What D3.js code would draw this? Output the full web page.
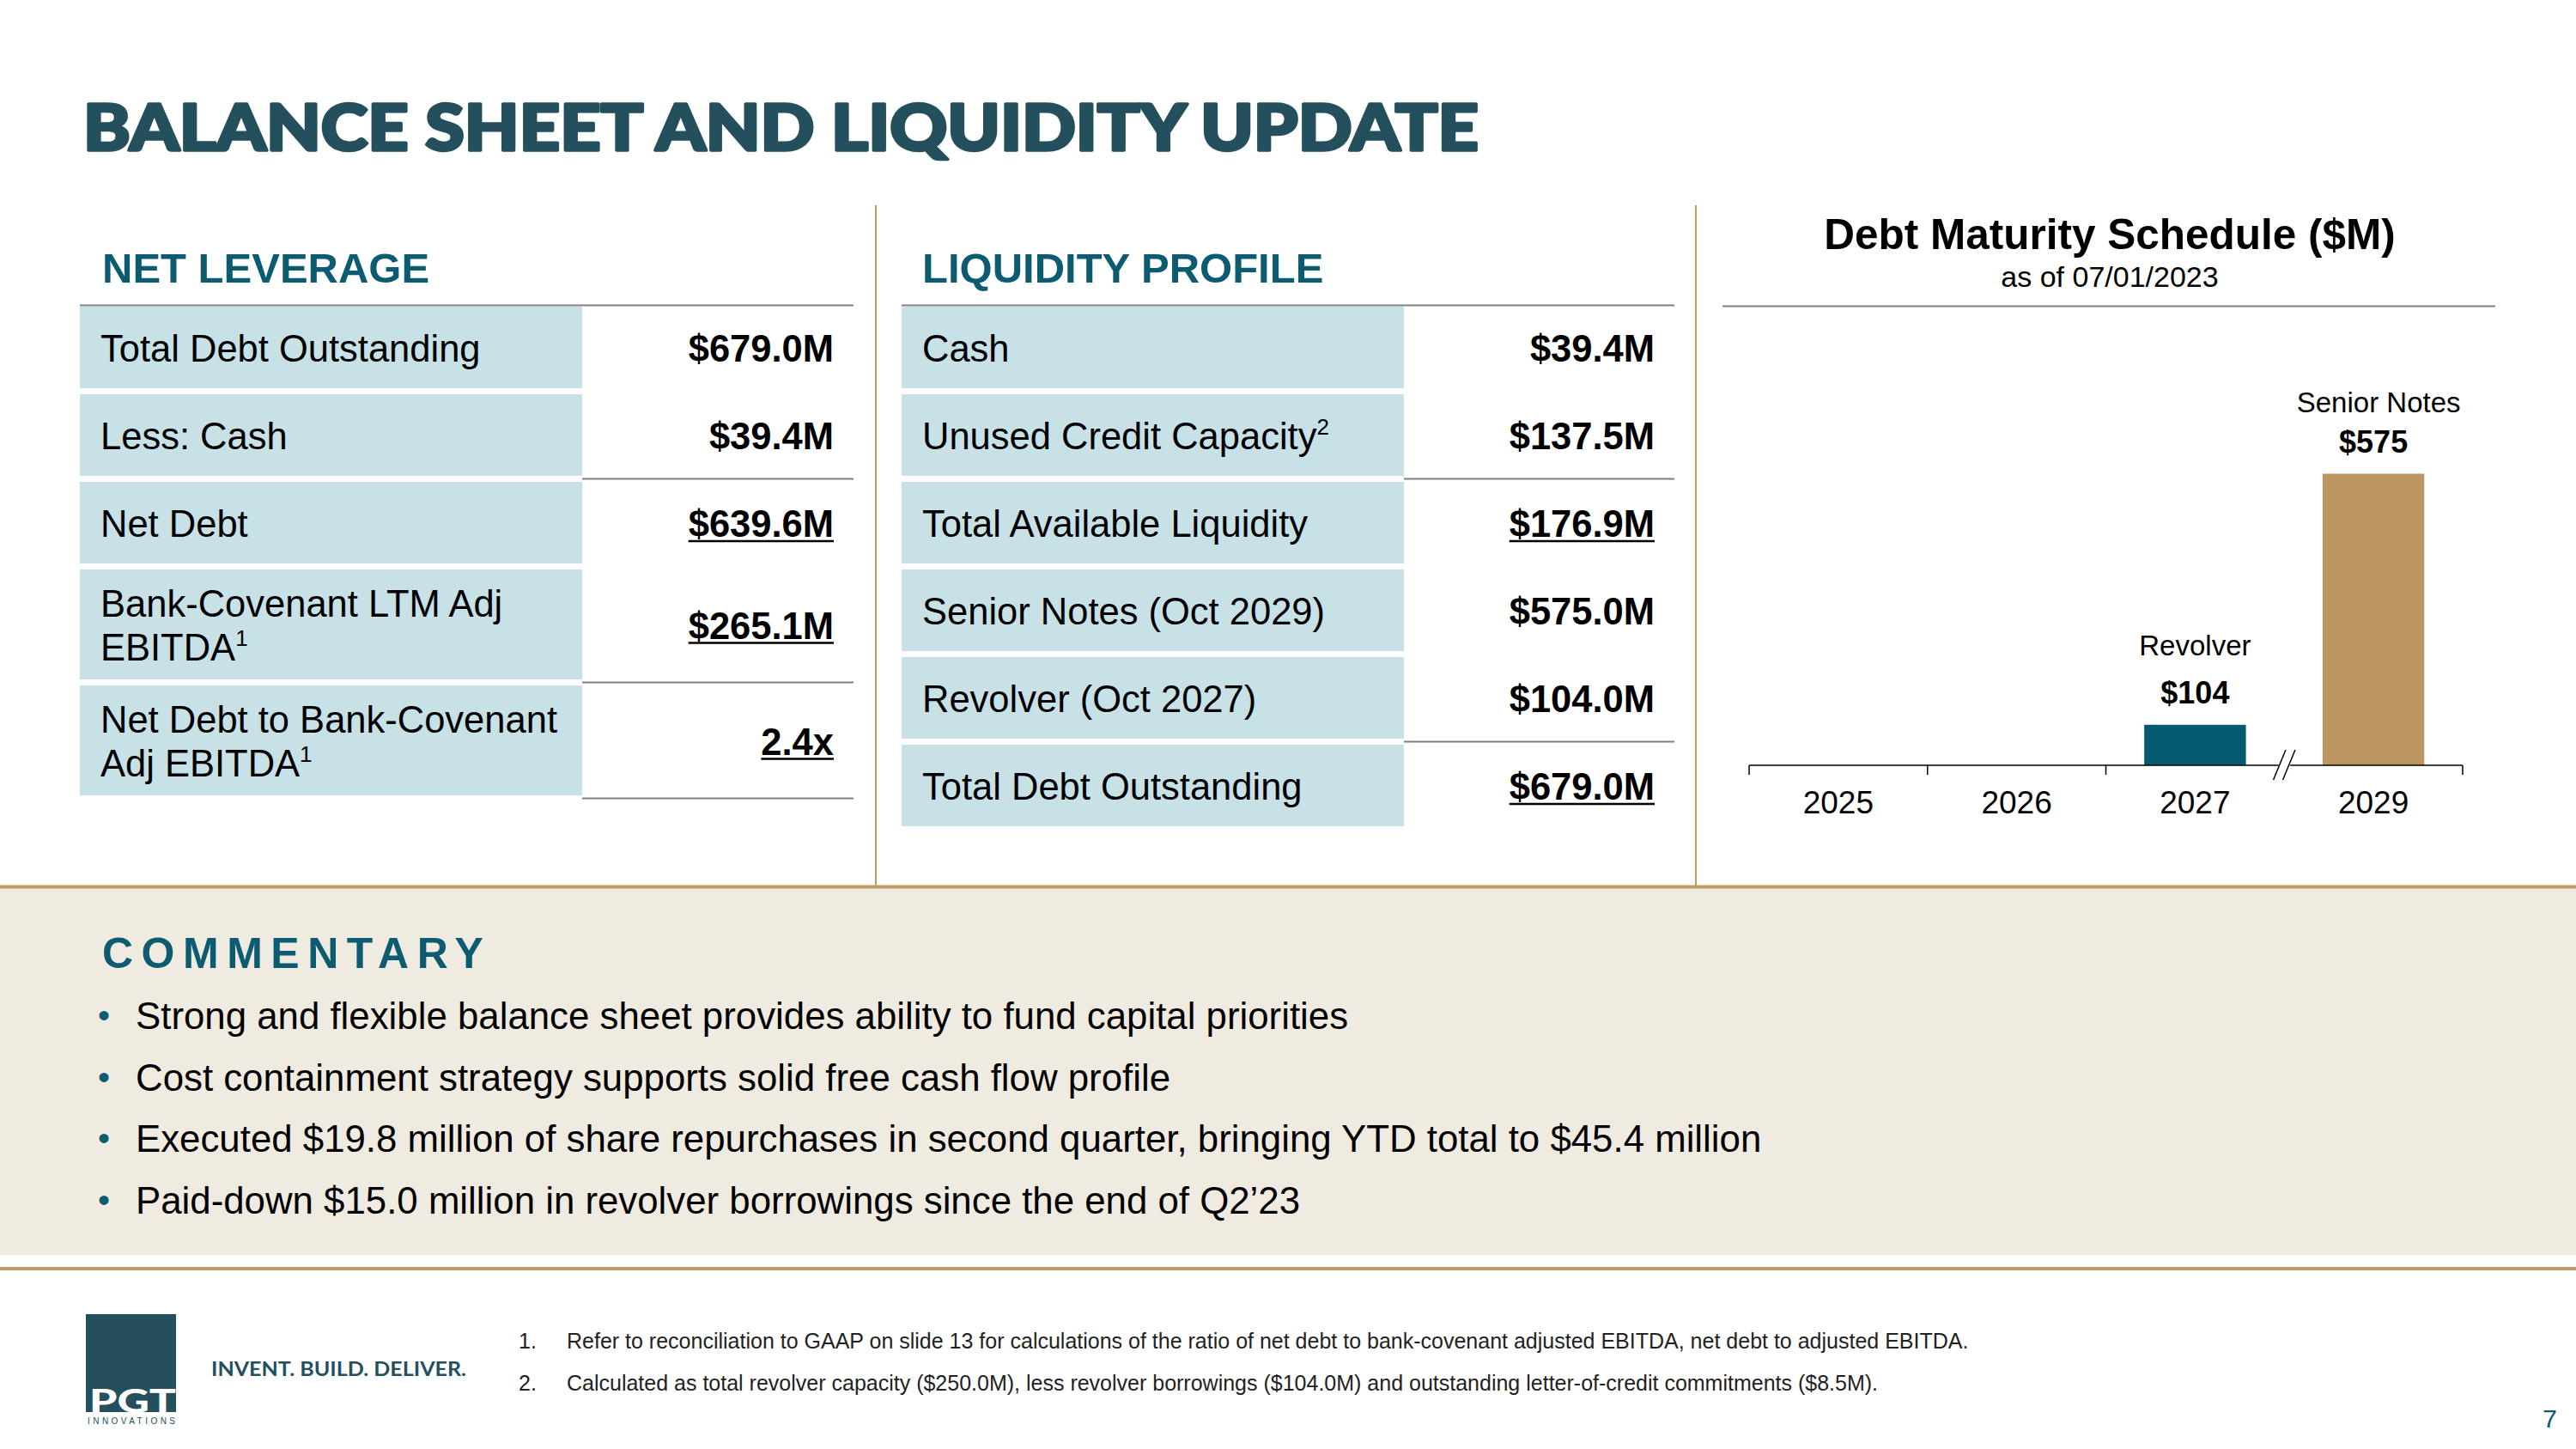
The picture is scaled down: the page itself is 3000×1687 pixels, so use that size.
<!DOCTYPE html>
<html>
<head>
<meta charset="utf-8">
<script src="https://cdn.jsdelivr.net/npm/d3@7"></script>
<style>
  html, body { margin: 0; padding: 0; background: #fff; }
  svg { display: block; }
  text { font-family: "Liberation Sans", Arial, sans-serif; }
</style>
</head>
<body>
<div id="slide"></div>
<script>
// ---- data ----
const netLeverageLabels = [["Total Debt Outstanding"], ["Less: Cash"], ["Net Debt"], ["Bank-Covenant LTM Adj", "EBITDA"], ["Net Debt to Bank-Covenant", "Adj EBITDA"]];
const netLeverageNotes = ["", "", "", "1", "1"];
const netLeverageValues = ["$679.0M", "$39.4M", "$639.6M", "$265.1M", "2.4x"];
const netLeverageTotals = [false, false, true, true, true];
const netLeverageRules = [false, true, false, true, true];

const liquidityLabels = [["Cash"], ["Unused Credit Capacity"], ["Total Available Liquidity"], ["Senior Notes (Oct 2029)"], ["Revolver (Oct 2027)"], ["Total Debt Outstanding"]];
const liquidityNotes = ["", "2", "", "", "", ""];
const liquidityValues = ["$39.4M", "$137.5M", "$176.9M", "$575.0M", "$104.0M", "$679.0M"];
const liquidityTotals = [false, false, true, false, false, true];
const liquidityRules = [false, true, false, false, true, false];

const maturityYears = ["2025", "2026", "2027", "2029"];
const maturityAmounts = [0, 0, 104, 575];
const maturityNames = ["", "", "Revolver", "Senior Notes"];

const commentary = [
  "Strong and flexible balance sheet provides ability to fund capital priorities",
  "Cost containment strategy supports solid free cash flow profile",
  "Executed $19.8 million of share repurchases in second quarter, bringing YTD total to $45.4 million",
  "Paid-down $15.0 million in revolver borrowings since the end of Q2\u201923"
];
const footnotes = [
  "Refer to reconciliation to GAAP on slide 13 for calculations of the ratio of net debt to bank-covenant adjusted EBITDA, net debt to adjusted EBITDA.",
  "Calculated as total revolver capacity ($250.0M), less revolver borrowings ($104.0M) and outstanding letter-of-credit commitments ($8.5M)."
];

// ---- styles ----
const W = 3000, H = 1687;
const titleColor = "#244f5c";
const teal = "#0d5b70";
const gold = "#c09a63";
const cellFill = "#c7e1e7";
const ruleGrey = "#808080";
const barColors = { "Revolver": "#025b70", "Senior Notes": "#bd9560" };
const nameGap = { "Revolver": 81, "Senior Notes": 72 };

const svg = d3.select("#slide").append("svg")
  .attr("width", W)
  .attr("height", H)
  .attr("viewBox", [0, 0, W, H]);

svg.append("rect").attr("width", W).attr("height", H).attr("fill", "#fff");

// Title
svg.append("text")
  .attr("x", 97).attr("y", 175)
  .attr("textLength", 1625).attr("lengthAdjust", "spacingAndGlyphs")
  .style("font-family", "'Arial Black', Lato, Roboto, Inter, sans-serif")
  .style("font-weight", 900)
  .style("font-size", "75px")
  .attr("fill", titleColor)
  .attr("stroke", titleColor).attr("stroke-width", 3.5).attr("stroke-linejoin", "round")
  .text("BALANCE SHEET AND LIQUIDITY UPDATE");

// column separators
[1020, 1975].forEach(x => {
  svg.append("line")
    .attr("x1", x).attr("x2", x).attr("y1", 239).attr("y2", 1031)
    .attr("stroke", gold).attr("stroke-width", 2);
});

// Section headings
[["NET LEVERAGE", 119], ["LIQUIDITY PROFILE", 1074]].forEach(([t, x]) => {
  svg.append("text")
    .attr("x", x).attr("y", 329)
    .style("font-weight", "bold").style("font-size", "49px")
    .attr("fill", teal)
    .text(t);
});

// ---- tables ----
function drawTable(opt) {
  const g = svg.append("g");
  const top = 357, gap = 7;
  let y = top;
  const rows = opt.labels.map((lines, i) => {
    const h = lines.length > 1 ? 128 : 95;
    const r = { lines, note: opt.notes[i], value: opt.values[i], total: opt.totals[i], rule: opt.rules[i], y, h };
    y += h + gap;
    return r;
  });
  const x1 = opt.x0 + opt.labelW, x2 = x1 + opt.valueW;

  g.append("line")
    .attr("x1", opt.x0).attr("x2", x2).attr("y1", top - 1.5).attr("y2", top - 1.5)
    .attr("stroke", ruleGrey).attr("stroke-width", 2);

  const row = g.selectAll("g.row").data(rows).join("g").attr("class", "row");

  row.append("rect")
    .attr("x", opt.x0).attr("y", d => d.y)
    .attr("width", opt.labelW).attr("height", d => d.h)
    .attr("fill", cellFill);

  row.each(function(d) {
    const sel = d3.select(this);
    const cy = d.y + d.h / 2;
    const lineH = 51;
    d.lines.forEach((ln, k) => {
      const base = cy + 16.5 - lineH * (d.lines.length - 1) / 2 + k * lineH;
      const t = sel.append("text")
        .attr("x", opt.x0 + 24).attr("y", base)
        .style("font-size", "43.5px").attr("fill", "#000")
        .text(ln);
      if (k === d.lines.length - 1 && d.note) {
        t.append("tspan").attr("dy", -17).style("font-size", "26px").text(d.note);
      }
    });
    const v = sel.append("text")
      .attr("x", x2 - 23).attr("y", cy + 16.5)
      .attr("text-anchor", "end")
      .style("font-size", "43.5px").style("font-weight", "bold").attr("fill", "#000")
      .text(d.value);
    if (d.total) {
      const len = v.node().getComputedTextLength();
      sel.append("line")
        .attr("x1", x2 - 23 - len).attr("x2", x2 - 23)
        .attr("y1", cy + 21.5).attr("y2", cy + 21.5)
        .attr("stroke", "#000").attr("stroke-width", 2.5);
    }
    if (d.rule) {
      sel.append("line")
        .attr("x1", x1).attr("x2", x2)
        .attr("y1", d.y + d.h + 3.5).attr("y2", d.y + d.h + 3.5)
        .attr("stroke", ruleGrey).attr("stroke-width", 2);
    }
  });
}

drawTable({ x0: 93, labelW: 585, valueW: 316, labels: netLeverageLabels, notes: netLeverageNotes,
  values: netLeverageValues, totals: netLeverageTotals, rules: netLeverageRules });
drawTable({ x0: 1050, labelW: 585, valueW: 315, labels: liquidityLabels, notes: liquidityNotes,
  values: liquidityValues, totals: liquidityTotals, rules: liquidityRules });

// ---- debt maturity chart ----
const chart = svg.append("g");
chart.append("text")
  .attr("x", 2457).attr("y", 290).attr("text-anchor", "middle")
  .style("font-size", "49.5px").style("font-weight", "bold").attr("fill", "#000")
  .text("Debt Maturity Schedule ($M)");
chart.append("text")
  .attr("x", 2457).attr("y", 334).attr("text-anchor", "middle")
  .style("font-size", "34px").attr("fill", "#000")
  .text("as of 07/01/2023");
chart.append("line")
  .attr("x1", 2006).attr("x2", 2906).attr("y1", 356.5).attr("y2", 356.5)
  .attr("stroke", ruleGrey).attr("stroke-width", 2);

const axisY = 891;
const x = d3.scaleBand().domain(maturityYears).range([2037, 2868]).paddingInner(0.43).paddingOuter(0.215);
// axis is broken between 2027 and 2029, so the value scale does not start at zero
const axisFloor = 28;
const y = d3.scaleLinear().domain([axisFloor, 575]).range([axisY, 551.5]);

const bars = maturityYears.map((yr, i) => ({ yr, v: maturityAmounts[i], name: maturityNames[i] })).filter(d => d.v > 0);

chart.selectAll("rect.bar").data(bars).join("rect")
  .attr("class", "bar")
  .attr("x", d => x(d.yr)).attr("width", x.bandwidth())
  .attr("y", d => y(d.v)).attr("height", d => axisY - y(d.v))
  .attr("fill", d => barColors[d.name]);

chart.selectAll("text.val").data(bars).join("text")
  .attr("class", "val")
  .attr("x", d => x(d.yr) + x.bandwidth() / 2).attr("y", d => y(d.v) - 25)
  .attr("text-anchor", "middle")
  .style("font-size", "36px").style("font-weight", "bold")
  .text(d => "$" + d.v);

chart.selectAll("text.name").data(bars).join("text")
  .attr("class", "name")
  .attr("x", d => x(d.yr) + x.bandwidth() / 2 + (d.name === "Senior Notes" ? 6 : 0))
  .attr("y", d => y(d.v) - nameGap[d.name])
  .attr("text-anchor", "middle")
  .style("font-size", "33px")
  .text(d => d.name);

// axis line + ticks at band boundaries
const step = x.step();
const x0 = x.range()[0];
chart.append("line")
  .attr("x1", x0).attr("x2", x.range()[1]).attr("y1", axisY).attr("y2", axisY)
  .attr("stroke", "#000").attr("stroke-width", 1.5);
const breakIdx = 3;
d3.range(maturityYears.length + 1).filter(i => i !== breakIdx).forEach(i => {
  chart.append("line")
    .attr("x1", x0 + i * step).attr("x2", x0 + i * step)
    .attr("y1", axisY).attr("y2", axisY + 11)
    .attr("stroke", "#000").attr("stroke-width", 1.5);
});
// break marks
const bx = x0 + breakIdx * step;
chart.append("polygon")
  .attr("points", [[bx + 1.5, axisY - 19], [bx + 13, axisY - 15], [bx - 1, axisY + 19], [bx - 13, axisY + 15]].map(p => p.join(",")).join(" "))
  .attr("fill", "#fff");
[-5.5, 5.5].forEach(dx => {
  chart.append("line")
    .attr("x1", bx + dx + 7.2).attr("y1", axisY - 18)
    .attr("x2", bx + dx - 7.2).attr("y2", axisY + 17)
    .attr("stroke", "#000").attr("stroke-width", 1.5);
});

chart.selectAll("text.year").data(maturityYears).join("text")
  .attr("class", "year")
  .attr("x", d => x(d) + x.bandwidth() / 2).attr("y", 947)
  .attr("text-anchor", "middle")
  .style("font-size", "37px")
  .text(d => d);

// ---- commentary ----
svg.append("rect").attr("x", 0).attr("y", 1033).attr("width", W).attr("height", 428).attr("fill", "#f0ebe0");
svg.append("rect").attr("x", 0).attr("y", 1030.5).attr("width", W).attr("height", 4).attr("fill", gold);
svg.append("rect").attr("x", 0).attr("y", 1475).attr("width", W).attr("height", 4).attr("fill", gold);

svg.append("text")
  .attr("x", 119).attr("y", 1127)
  .style("font-size", "50px").style("font-weight", "bold").style("letter-spacing", "9.5px")
  .attr("fill", teal)
  .text("COMMENTARY");

const bullet = svg.append("g").selectAll("g").data(commentary).join("g")
  .attr("transform", (d, i) => `translate(0, ${1198 + i * 71.5})`);
bullet.append("text").attr("x", 114).attr("y", -2)
  .style("font-size", "40px").attr("fill", teal).text("\u2022");
bullet.append("text").attr("x", 158).attr("y", 0)
  .style("font-size", "43.8px").attr("fill", "#000").text(d => d);

// ---- footer ----
const foot = svg.append("g").selectAll("g").data(footnotes).join("g")
  .attr("transform", (d, i) => `translate(0, ${1570 + i * 49})`);
foot.append("text").attr("x", 604).style("font-size", "25px").attr("fill", "#222").text((d, i) => (i + 1) + ".");
foot.append("text").attr("x", 660).style("font-size", "25px").attr("fill", "#222").text(d => d);

// logo
const logo = svg.append("g");
logo.append("rect").attr("x", 100).attr("y", 1530).attr("width", 105).attr("height", 114).attr("fill", titleColor);
logo.append("text").attr("x", 104).attr("y", 1645)
  .attr("textLength", 101).attr("lengthAdjust", "spacingAndGlyphs")
  .style("font-family", "'Arial Black', Lato, Roboto, sans-serif").style("font-weight", 900)
  .style("font-size", "38px").attr("fill", "#fff").text("PGT");
logo.append("text").attr("x", 102).attr("y", 1658)
  .attr("textLength", 102).attr("lengthAdjust", "spacing")
  .style("font-size", "10px").attr("fill", titleColor).text("INNOVATIONS");
logo.append("text").attr("x", 246).attr("y", 1601.5)
  .attr("textLength", 297).attr("lengthAdjust", "spacingAndGlyphs")
  .style("font-family", "Lato, 'Open Sans', sans-serif").style("font-weight", "bold")
  .style("font-size", "22px").attr("fill", titleColor).text("INVENT. BUILD. DELIVER.");

svg.append("text").attr("x", 2978).attr("y", 1662).attr("text-anchor", "end")
  .style("font-size", "30px").attr("fill", teal).text("7");
</script>
</body>
</html>
